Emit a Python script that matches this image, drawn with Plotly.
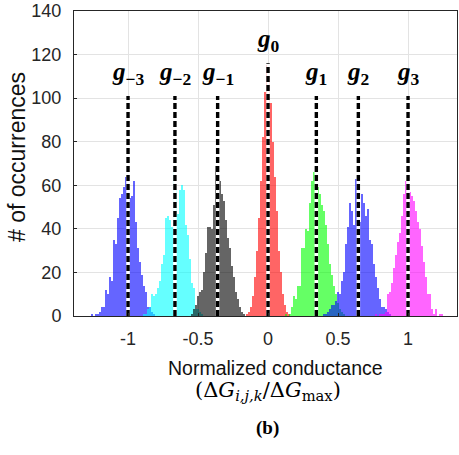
import plotly.graph_objects as go

# ---- data ----
bin_width = 0.0143
levels = ["−3", "−2", "−1", "0", "1", "2", "3"]
target_pos = [-1.0, -0.665, -0.36, 0.0, 0.345, 0.645, 1.0]
target_height = [101, 101, 101, 116, 101, 101, 101]
bin_start = [-1.264, -0.893, -0.55, -0.157, 0.121, 0.393, 0.764]

counts_m3 = [1, 0, 1, 1, 2, 4, 4, 12, 10, 18, 16, 35, 33, 45, 54, 56, 59, 64, 61, 54, 55, 62,
             43, 31, 25, 19, 14, 11, 4, 4, 2, 1]
counts_m2 = [1, 1, 3, 4, 10, 9, 10, 13, 16, 24, 28, 45, 46, 44, 41, 66, 58, 47, 58, 60, 58, 42,
             37, 26, 15, 13, 3, 3, 2, 1]
counts_m1 = [1, 3, 5, 9, 11, 12, 20, 29, 41, 41, 40, 51, 69, 71, 62, 56, 53, 44, 36, 31, 23, 18,
             11, 8, 4, 2, 1]
counts_0 = [1, 2, 4, 9, 18, 30, 45, 62, 82, 103, 115, 110, 98, 80, 64, 48, 30, 20, 10, 5, 2, 1]
counts_p1 = [1, 0, 1, 4, 9, 8, 14, 14, 31, 31, 40, 39, 52, 62, 66, 73, 59, 56, 51, 48, 42, 33,
             24, 19, 14, 10, 6, 3, 2, 1]
counts_p2 = [1, 1, 2, 3, 5, 5, 7, 11, 10, 16, 20, 33, 41, 52, 48, 42, 63, 49, 43, 56, 52, 46,
             49, 35, 33, 24, 18, 13, 8, 4, 4, 3, 2, 1]
counts_p3 = [1, 0, 1, 1, 1, 2, 10, 11, 15, 22, 28, 34, 38, 46, 56, 62, 57, 57, 55, 53, 48, 43,
             40, 32, 25, 18, 10, 10, 3, 1, 3, 0, 1, 1]
all_counts = [counts_m3, counts_m2, counts_m1, counts_0, counts_p1, counts_p2, counts_p3]

x_ticks = [-1, -0.5, 0, 0.5, 1]
x_tick_text = ["-1", "-0.5", "0", "0.5", "1"]
y_ticks = [0, 20, 40, 60, 80, 100, 120, 140]

# ---- styles ----
colors = ["#0000ff", "#00ffff", "#000000", "#ff0000", "#00ff00", "#0000ff", "#ff00ff"]

fig = go.Figure()
for counts, start, col in zip(all_counts, bin_start, colors):
    xs = [start + (i + 0.5) * bin_width for i in range(len(counts))]
    fig.add_trace(go.Bar(x=xs, y=counts, width=bin_width * 0.88,
                         marker=dict(color=col, line=dict(width=0)),
                         opacity=0.6, showlegend=False, hoverinfo="skip"))

for pos, h in zip(target_pos, target_height):
    fig.add_trace(go.Scatter(x=[pos, pos], y=[0, h], mode="lines",
                             line=dict(color="white", width=3.6),
                             showlegend=False, hoverinfo="skip"))
    fig.add_trace(go.Scatter(x=[pos, pos], y=[0, h], mode="lines",
                             line=dict(color="black", width=3.4, dash="6px,3px"),
                             showlegend=False, hoverinfo="skip"))

annotations = []
for lev, pos, h in zip(levels, target_pos, target_height):
    annotations.append(dict(x=pos, y=h + 10.5, xref="x", yref="y",
                            text="<b><i>g</i><sub>" + lev + "</sub></b>",
                            showarrow=False, xanchor="center", yanchor="middle",
                            font=dict(family="Liberation Serif", size=25, color="black")))

L, R, T, B = 74, 2, 11, 139
W, H = 459, 455
pw, ph = W - L - R, H - T - B


def px(xp):
    return (xp - L) / pw


def py(yp):
    return (H - B - yp) / ph


annotations += [
    dict(x=px(275), y=py(368), xref="paper", yref="paper", text="Normalized conductance",
         showarrow=False, xanchor="center", yanchor="middle",
         font=dict(family="Liberation Sans", size=19.5, color="#111111")),
    dict(x=px(268), y=py(391), xref="paper", yref="paper",
         text="(Δ<i>G</i><sub><i>i,j,k</i></sub>/Δ<i>G</i><sub>max</sub>)",
         showarrow=False, xanchor="center", yanchor="middle",
         font=dict(family="DejaVu Serif", size=21, color="black")),
    dict(x=px(267), y=py(428), xref="paper", yref="paper", text="<b>(b)</b>",
         showarrow=False, xanchor="center", yanchor="middle",
         font=dict(family="Liberation Serif", size=19, color="black")),
    dict(x=px(17), y=py(157), xref="paper", yref="paper", text="# of occurrences",
         showarrow=False, xanchor="center", yanchor="middle", textangle=-90,
         font=dict(family="Liberation Sans", size=23, color="#111111")),
]

fig.update_layout(
    width=W, height=H, template="none",
    margin=dict(l=L, r=R, t=T, b=B, pad=0),
    paper_bgcolor="white", plot_bgcolor="white",
    barmode="overlay", bargap=0,
    annotations=annotations,
    xaxis=dict(range=[-1.386, -1.386 + pw / 140.0], tickvals=x_ticks, ticktext=x_tick_text,
               showgrid=True, gridcolor="#e3e3e3", gridwidth=1,
               showline=True, linecolor="#262626", linewidth=1, mirror=True,
               ticks="inside", ticklen=3, tickcolor="#262626",
               zeroline=False, ticklabelstandoff=6,
               tickfont=dict(family="Liberation Sans", size=18, color="#262626")),
    yaxis=dict(range=[0, 140], tickvals=y_ticks,
               showgrid=True, gridcolor="#e3e3e3", gridwidth=1,
               showline=True, linecolor="#262626", linewidth=1, mirror=True,
               ticks="inside", ticklen=3, tickcolor="#262626",
               zeroline=False, ticklabelstandoff=8,
               tickfont=dict(family="Liberation Sans", size=18, color="#262626")),
)

fig.write_html("out.html")
